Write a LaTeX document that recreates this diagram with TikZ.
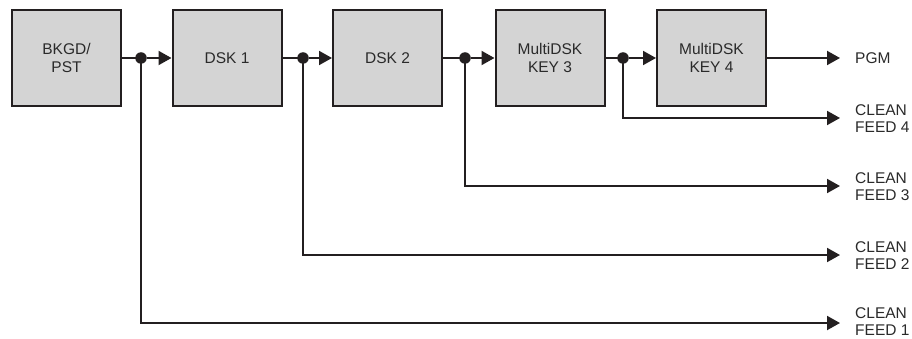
\documentclass[tikz,border=0pt]{standalone}
\usepackage{fontspec}
\setmainfont{Liberation Sans}
\usetikzlibrary{arrows.meta,calc}
\definecolor{ln}{HTML}{231F20}
\definecolor{bx}{HTML}{D4D4D4}
\definecolor{tx}{HTML}{2A2A2A}
\begin{document}
\begin{tikzpicture}[x=1pt,y=-1pt,
  blk/.style={draw=ln,line width=2pt,fill=bx,minimum width=109pt,minimum height=96pt,inner sep=0pt,align=center,text=tx,font=\fontsize{15.5}{17.5}\selectfont},
  jn/.style={circle,fill=ln,inner sep=0pt,minimum size=11.5pt},
  wire/.style={draw=ln,line width=2pt},
  arr/.style={wire,-{Triangle[length=13pt,width=14pt]}},
  lbl/.style={anchor=west,align=left,inner sep=0pt,text=tx,font=\fontsize{15.5}{17}\selectfont}]
\useasboundingbox (0,0) rectangle (912,339);
\node[blk] (b1) at (66.5,58) {BKGD/\\PST};
\node[blk] (b2) at (227,58) {DSK 1};
\node[blk] (b3) at (387.5,58) {DSK 2};
\node[blk] (b4) at (550,58) {MultiDSK\\KEY 3};
\node[blk] (b5) at (711.5,58) {MultiDSK\\KEY 4};
\node[jn] (j1) at (141,58) {};
\node[jn] (j2) at (303,58) {};
\node[jn] (j3) at (465,58) {};
\node[jn] (j4) at (623,58) {};
\coordinate (pgm) at (840,58);
\coordinate (f4) at (840,118);
\coordinate (f3) at (840,186);
\coordinate (f2) at (840,255);
\coordinate (f1) at (840,323);
\draw[wire] (b1.east) -- (j1.center);
\draw[wire] (b2.east) -- (j2.center);
\draw[wire] (b3.east) -- (j3.center);
\draw[wire] (b4.east) -- (j4.center);
\draw[arr] (j1) -- (b2.west);
\draw[arr] (j2) -- (b3.west);
\draw[arr] (j3) -- (b4.west);
\draw[arr] (j4) -- (b5.west);
\draw[arr] (b5.east) -- (pgm);
\draw[arr] (j4.center) |- (f4);
\draw[arr] (j3.center) |- (f3);
\draw[arr] (j2.center) |- (f2);
\draw[arr] (j1.center) |- (f1);
\node[lbl] (lp) at (855,58) {PGM};
\node[lbl] (l4) at (855,118.5) {CLEAN\\FEED 4};
\node[lbl] (l3) at (855,186.5) {CLEAN\\FEED 3};
\node[lbl] (l2) at (855,255.5) {CLEAN\\FEED 2};
\node[lbl] (l1) at (855,322) {CLEAN\\FEED 1};
\end{tikzpicture}
\end{document}
